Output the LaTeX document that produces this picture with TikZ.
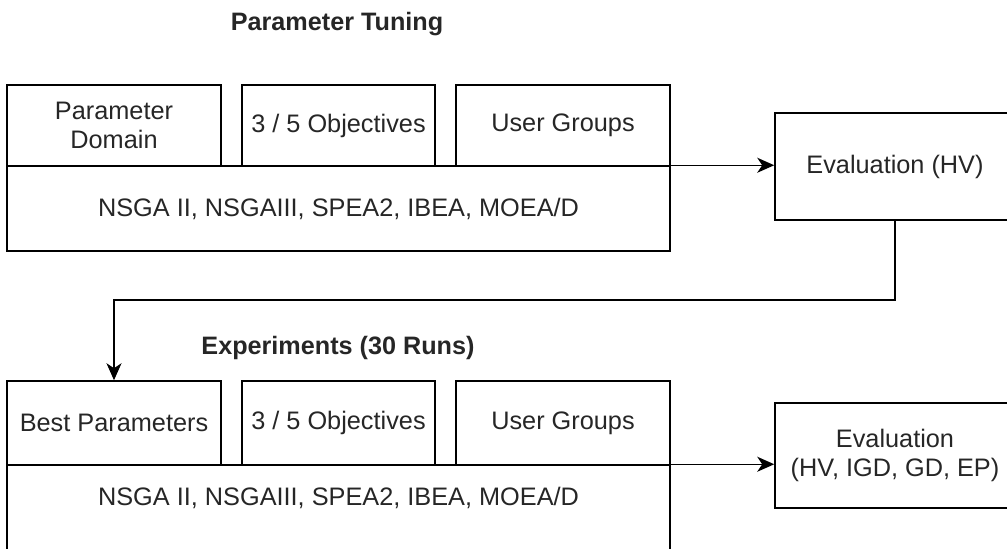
\documentclass[tikz,border=0pt]{standalone}
\usepackage{fontspec}
\setmainfont{Liberation Sans}
\usetikzlibrary{arrows.meta}
\begin{document}
\begin{tikzpicture}[x=1pt,y=-1pt,
  every node/.style={font=\fontsize{25.3}{29}\selectfont, text=black!85},
  blk/.style={draw=black, line width=1.5pt, inner sep=0pt, align=center},
  ttl/.style={font=\fontsize{25.2}{29}\selectfont\bfseries},
  conn/.style={line width=1.5pt, draw=black, -{Stealth[length=17pt,width=15pt,inset=5pt]}},
]
\useasboundingbox (0,0) rectangle (1007,549);
% Parameter tuning
\node[ttl] (t1) at (337,24) {Parameter Tuning};
\node[blk, minimum width=214pt, minimum height=81pt] (pd) at (114,125.5) {Parameter\\Domain};
\node[blk, minimum width=193pt, minimum height=81pt] (ob1) at (338.5,125.5) {3 / 5 Objectives};
\node[blk, minimum width=214pt, minimum height=81pt] (ug1) at (563,125.5) {User Groups};
\node[blk, minimum width=663pt, minimum height=85pt] (al1) at (338.5,208.5) {NSGA II, NSGAIII, SPEA2, IBEA, MOEA/D};
\node[blk, minimum width=240pt, minimum height=107pt] (ev1) at (895,166.5) {Evaluation (HV)};
% Experiments
\node[ttl] (t2) at (338,348) {Experiments (30 Runs)};
\node[blk, minimum width=214pt, minimum height=84pt] (bp) at (114,423) {Best Parameters};
\node[blk, minimum width=193pt, minimum height=84pt] (ob2) at (338.5,423) {3 / 5 Objectives};
\node[blk, minimum width=214pt, minimum height=84pt] (ug2) at (563,423) {User Groups};
\node[blk, minimum width=663pt, minimum height=88pt, text depth=0pt] (al2) at (338.5,509) {};
\node (al2t) at (338.5,498) {NSGA II, NSGAIII, SPEA2, IBEA, MOEA/D};
\node[blk, minimum width=240pt, minimum height=105pt] (ev2) at (895,455.5) {Evaluation\\(HV, IGD, GD, EP)};
% connectors
\draw[conn] (al1.north east) -- (al1.north east -| ev1.west);
\coordinate (bend) at (895,300);
\draw[conn] (ev1.south) -- (bend) -| (bp.north);
\draw[conn] (al2.north east) -- (al2.north east -| ev2.west);
\end{tikzpicture}
\end{document}
